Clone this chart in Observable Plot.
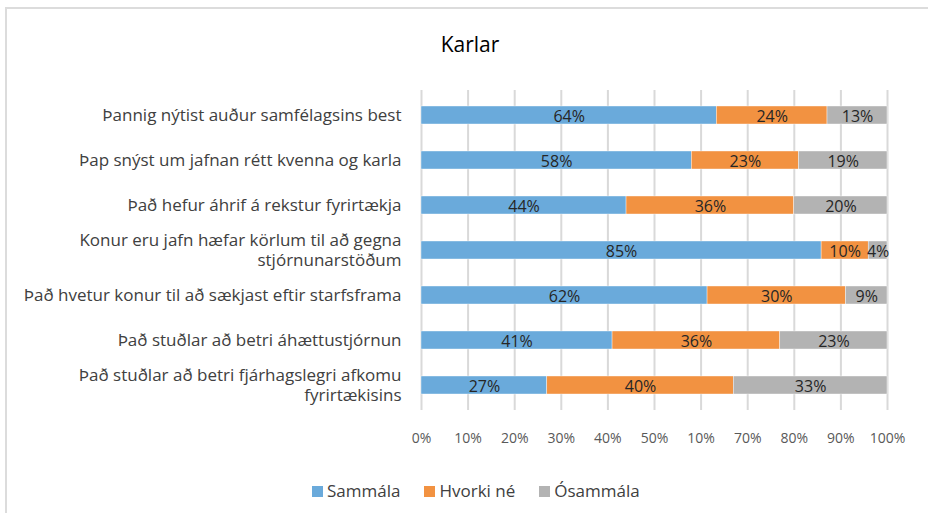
<!DOCTYPE html>
<html>
<head>
<meta charset="utf-8">
<script src="https://cdn.jsdelivr.net/npm/d3@7"></script>
<script src="https://cdn.jsdelivr.net/npm/@observablehq/plot@0.6"></script>
<style>
  html, body { margin: 0; padding: 0; background: #fff; }
  #wrap { position: relative; width: 928px; height: 513px; overflow: hidden; font-family: "Open Sans", Lato, sans-serif; }
  #frame { position: absolute; left: 5px; top: 7px; width: 940px; height: 520px; border-left: 2px solid #dcdcdc; border-top: 2px solid #dcdcdc; box-sizing: border-box; }
  #title { position: absolute; left: 0; width: 940px; top: 30px; text-align: center; font-size: 21px; font-weight: 500; color: #000; line-height: 28px; }
  #chart { position: absolute; left: 0; top: 0; }
  #legend { position: absolute; top: 480px; left: 312px; display: flex; font-size: 17px; line-height: 22px; color: #404040; }
  #legend span.item { display: flex; align-items: center; margin-right: 24px; }
  #legend span.sw { display: inline-block; width: 11px; height: 11px; margin-right: 4px; }
</style>
</head>
<body>
<div id="wrap">
  <div id="frame"></div>
  <div id="chart"></div>
  <div id="title">Karlar</div>
  <div id="legend"></div>
</div>
<script>
const categories = [
  "Þannig nýtist auður samfélagsins best",
  "Þap snýst um jafnan rétt kvenna og karla",
  "Það hefur áhrif á rekstur fyrirtækja",
  "Konur eru jafn hæfar körlum til að gegna\nstjórnunarstöðum",
  "Það hvetur konur til að sækjast eftir starfsframa",
  "Það stuðlar að betri áhættustjórnun",
  "Það stuðlar að betri fjárhagslegri afkomu\nfyrirtækisins"
];
const seriesNames = ["Sammála", "Hvorki né", "Ósammála"];
const seriesColors = ["#6aaadb", "#f29241", "#b3b3b3"];
const sammala = [64, 58, 44, 85, 62, 41, 27];
const hvorki  = [24, 23, 36, 10, 30, 36, 40];
const osammala = [13, 19, 20, 4, 9, 23, 33];
const tickValues = [0, 0.1, 0.2, 0.3, 0.4, 0.5, 0.6, 0.7, 0.8, 0.9, 1];
const tickLabels = ["0%", "10%", "20%", "30%", "40%", "50%", "10%", "70%", "80%", "90%", "100%"];

const seriesValues = [sammala, hvorki, osammala];
const rows = [];
categories.forEach((c, i) => {
  seriesNames.forEach((s, j) => rows.push({cat: c, series: s, value: seriesValues[j][i]}));
});

const single = categories.filter(c => !c.includes("\n"));
const wrapped = categories.filter(c => c.includes("\n"));

const stackOpts = {x: "value", y: "cat", z: "series", offset: "normalize", order: seriesNames};
const labelOpts = {frameAnchor: "left", dx: -20, textAnchor: "end", fill: "#404040", fontSize: 17};

const plot = Plot.plot({
  width: 928,
  height: 513,
  marginLeft: 421,
  marginRight: 41,
  marginTop: 90,
  marginBottom: 103,
  style: {fontFamily: "'Open Sans', Lato, sans-serif", background: "transparent"},
  x: {domain: [0, 1], axis: null},
  y: {domain: categories, paddingInner: 0.6, paddingOuter: 0.3, axis: null},
  color: {domain: seriesNames, range: seriesColors},
  marks: [
    Plot.ruleX(tickValues, {stroke: "#d9d9d9", strokeWidth: 2}),
    Plot.barX(rows, Plot.stackX({...stackOpts, fill: "series", stroke: "#ffffff", strokeWidth: 0.4})),
    Plot.text(rows, Plot.stackX({...stackOpts, text: d => d.value + "%", fill: "#262626", fontSize: 16, dy: 1})),
    Plot.text(single, {...labelOpts, y: d => d, text: d => d}),
    Plot.text(wrapped, {...labelOpts, y: d => d, text: d => d.split("\n")[0], dy: -10}),
    Plot.text(wrapped, {...labelOpts, y: d => d, text: d => d.split("\n")[1], dy: 10}),
    Plot.text(tickValues, {x: d => d, text: (d, i) => tickLabels[i], frameAnchor: "bottom", dy: 32, fill: "#595959", fontSize: 14})
  ]
});
document.getElementById("chart").appendChild(plot);

const legend = document.getElementById("legend");
seriesNames.forEach((s, j) => {
  const item = document.createElement("span");
  item.className = "item";
  const sw = document.createElement("span");
  sw.className = "sw";
  sw.style.background = seriesColors[j];
  item.appendChild(sw);
  item.appendChild(document.createTextNode(s));
  legend.appendChild(item);
});
</script>
</body>
</html>
